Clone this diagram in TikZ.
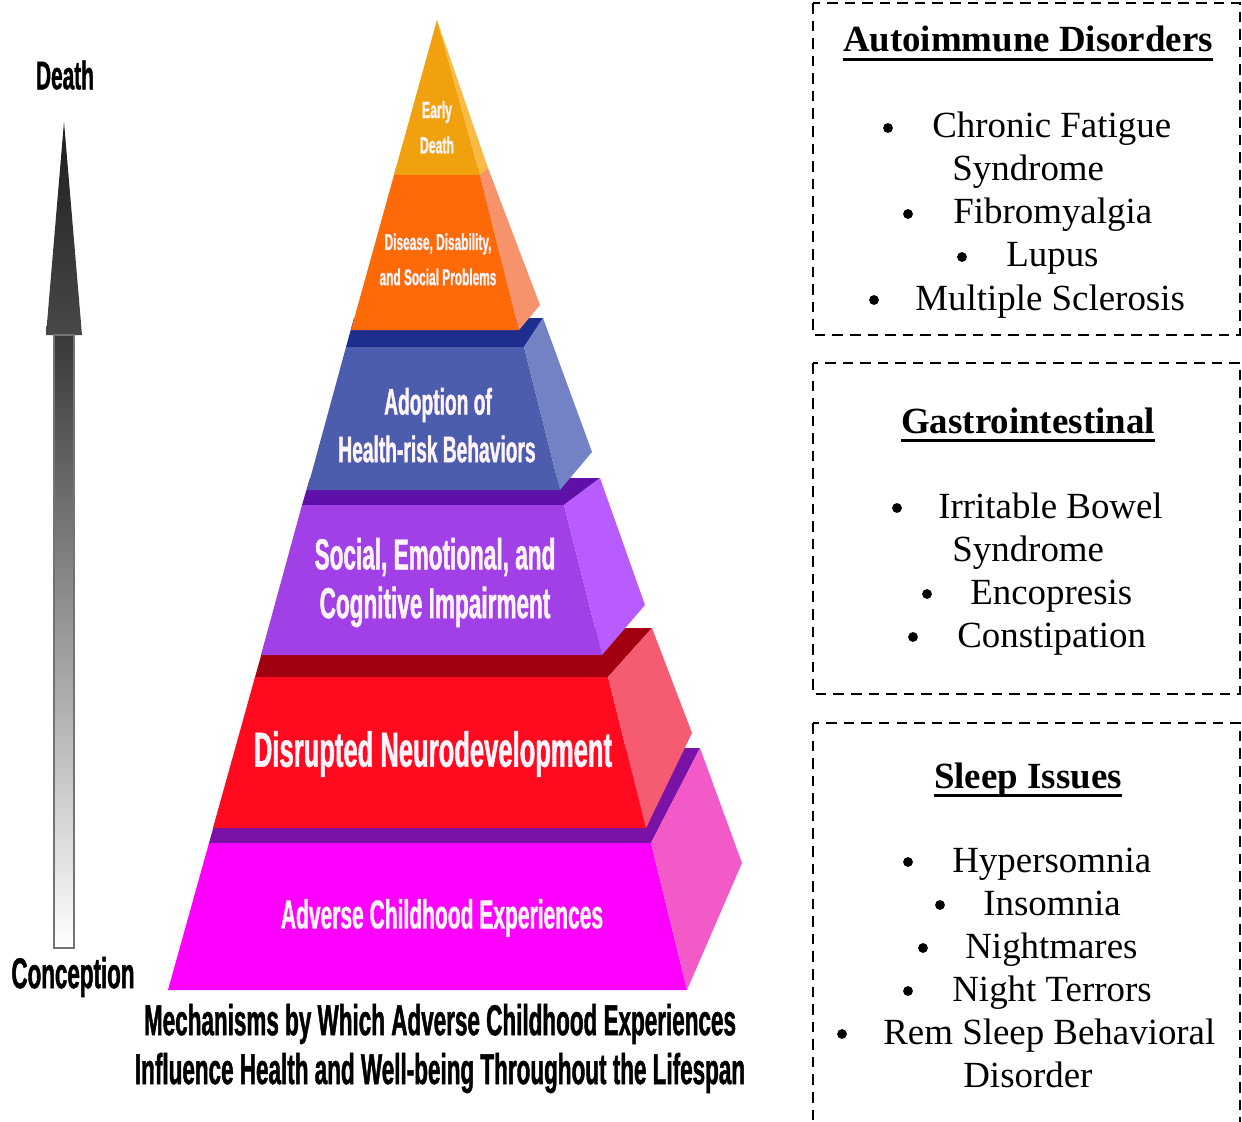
\documentclass[tikz,border=0pt]{standalone}
\usepackage{fontspec}
\setmainfont{Liberation Serif}
\newfontfamily\pyrfont[FakeStretch=0.52,FakeBold=1]{Liberation Sans}
\definecolor{ylwF}{HTML}{F2A10E}
\definecolor{ylwS}{HTML}{F8BC46}
\definecolor{orgF}{HTML}{FF6A08}
\definecolor{orgT}{HTML}{D0500A}
\definecolor{orgS}{HTML}{F7936C}
\definecolor{bluF}{HTML}{4C5DAE}
\definecolor{bluT}{HTML}{1E2E8E}
\definecolor{bluS}{HTML}{7282C4}
\definecolor{purF}{HTML}{A040E6}
\definecolor{purT}{HTML}{5E10A8}
\definecolor{purS}{HTML}{B85CFF}
\definecolor{redF}{HTML}{FF0A1E}
\definecolor{redT}{HTML}{A0000F}
\definecolor{redS}{HTML}{F55C72}
\definecolor{magF}{HTML}{FF00FF}
\definecolor{magT}{HTML}{7B12A8}
\definecolor{magS}{HTML}{F25AC8}
\definecolor{pyrtxt}{HTML}{FFF4FC}
\begin{document}
\begin{tikzpicture}[x=0.02cm,y=-0.02cm,
  pyr/.style={inner sep=0, text=pyrtxt, font=\pyrfont\bfseries\fontsize{#1}{#1}\selectfont},
  blk/.style={inner sep=0, text=black, font=\pyrfont\bfseries\fontsize{#1}{#1}\selectfont},
  boxframe/.style={draw=black, line width=1.6pt, dash pattern=on 6pt off 4pt},
  boxtitle/.style={inner sep=0, anchor=base, font=\bfseries\fontsize{21}{21}\selectfont},
  boxitem/.style={inner sep=0, anchor=base west, font=\fontsize{21}{21}\selectfont},
  ulin/.style={line width=1.4pt},
  dot/.style={fill=black}]
\useasboundingbox (0,0) rectangle (1242,1122);
\clip (0,0) rectangle (1242,1122);

% ---------- time arrow ----------
\coordinate (tip) at (64,122);
\shade[top color=black!88, bottom color=black!72] (tip) -- (46,335) -- (82,335) -- cycle;
\shade[top color=black!78, bottom color=white, draw=black!55, line width=0.6pt] (54,335) rectangle (74,948);
\node[blk=22.8] (death) at (65,75) {Death};
\node[blk=24.5] (conc) at (73,977) {Conception};

% ---------- pyramid (bottom to top) ----------
% layer 6
\fill[magT] (209,843) -- (651,843) -- (700,748) -- (236,748) -- cycle;
\fill[magF] (168,990) -- (687,990) -- (651,843) -- (209,843) -- cycle;
\fill[magS] (651,843) -- (700,748) -- (742,863) -- (687,990) -- cycle;
% layer 5
\fill[redT] (255,677) -- (608,677) -- (652,628) -- (269,628) -- cycle;
\fill[redF] (213,828) -- (646,828) -- (608,677) -- (255,677) -- cycle;
\fill[redS] (608,677) -- (652,628) -- (692,733) -- (646,828) -- cycle;
% layer 4
\fill[purT] (302,505) -- (564,505) -- (600,478) -- (310,478) -- cycle;
\fill[purF] (261,655) -- (602,655) -- (564,505) -- (302,505) -- cycle;
\fill[purS] (564,505) -- (600,478) -- (645,605) -- (602,655) -- cycle;
% layer 3
\fill[bluT] (346,347) -- (524,347) -- (543,318) -- (354,318) -- cycle;
\fill[bluF] (307,490) -- (560,490) -- (524,347) -- (346,347) -- cycle;
\fill[bluS] (524,347) -- (543,318) -- (592,452) -- (560,490) -- cycle;
% layer 2
\fill[orgT] (394,175) -- (480,175) -- (488,168) -- (396,168) -- cycle;
\fill[orgF] (351,330) -- (519,330) -- (480,175) -- (394,175) -- cycle;
\fill[orgS] (480,175) -- (488,168) -- (540,305) -- (519,330) -- cycle;
% layer 1
\fill[ylwF] (437,20) -- (394,175) -- (480,175) -- cycle;
\fill[ylwS] (437,20) -- (480,175) -- (488,168) -- cycle;

\node[pyr=13.4] (l1a) at (437,112) {Early};
\node[pyr=13.4] (l1b) at (437,145) {Death};
\node[pyr=13] (l2a) at (438,244) {Disease, Disability,};
\node[pyr=13] (l2b) at (438,277) {and Social Problems};
\node[pyr=21] (l3a) at (438,405) {Adoption of};
\node[pyr=21] (l3b) at (437,449) {Health-risk Behaviors};
\node[pyr=24.7] (l4a) at (435,557) {Social, Emotional, and};
\node[pyr=24.7] (l4b) at (435,607) {Cognitive Impairment};
\node[pyr=28] (l5) at (433,754) {Disrupted Neurodevelopment};
\node[pyr=23] (l6) at (442,918) {Adverse Childhood Experiences};

\node[blk=24.6] (cap1) at (440,1024) {Mechanisms by Which Adverse Childhood Experiences};
\node[blk=24.6] (cap2) at (440,1073) {Influence Health and Well-being Throughout the Lifespan};

% ---------- right boxes ----------
\draw[boxframe] (813,3) rectangle (1240,335);
\draw[boxframe] (813,363) rectangle (1240,694);
\draw[boxframe] (813,723) rectangle (1240,1160);

% box 1
\node[boxtitle] (t1) at (1028,52) {Autoimmune Disorders};
\draw[ulin] ([yshift=-4.3pt]t1.base west) -- ([yshift=-4.3pt]t1.base east);
\fill[dot] (888,128) circle (2.8pt);
\node[boxitem] (a1) at (932,138) {Chronic Fatigue};
\node[boxitem] (a1b) at (952,181) {Syndrome};
\fill[dot] (908,214) circle (2.8pt);
\node[boxitem] (a2) at (953,224) {Fibromyalgia};
\fill[dot] (962,257) circle (2.8pt);
\node[boxitem] (a3) at (1006,267) {Lupus};
\fill[dot] (874,300) circle (2.8pt);
\node[boxitem] (a4) at (915,310) {Multiple Sclerosis};

% box 2
\node[boxtitle] (t2) at (1028,433) {Gastrointestinal};
\draw[ulin] ([yshift=-4.3pt]t2.base west) -- ([yshift=-4.3pt]t2.base east);
\fill[dot] (897,508) circle (2.8pt);
\node[boxitem] (g1) at (938,518) {Irritable Bowel};
\node[boxitem] (g1b) at (952,561) {Syndrome};
\fill[dot] (927,594) circle (2.8pt);
\node[boxitem] (g2) at (970,604) {Encopresis};
\fill[dot] (913,637) circle (2.8pt);
\node[boxitem] (g3) at (957,647) {Constipation};

% box 3
\node[boxtitle] (t3) at (1028,788) {Sleep Issues};
\draw[ulin] ([yshift=-4.3pt]t3.base west) -- ([yshift=-4.3pt]t3.base east);
\fill[dot] (908,862) circle (2.8pt);
\node[boxitem] (s1) at (952,872) {Hypersomnia};
\fill[dot] (940,905) circle (2.8pt);
\node[boxitem] (s2) at (983,915) {Insomnia};
\fill[dot] (923,948) circle (2.8pt);
\node[boxitem] (s3) at (965,958) {Nightmares};
\fill[dot] (908,991) circle (2.8pt);
\node[boxitem] (s4) at (952,1001) {Night Terrors};
\fill[dot] (842,1034) circle (2.8pt);
\node[boxitem] (s5) at (883,1044) {Rem Sleep Behavioral};
\node[boxitem] (s5b) at (963,1087) {Disorder};
\end{tikzpicture}
\end{document}
